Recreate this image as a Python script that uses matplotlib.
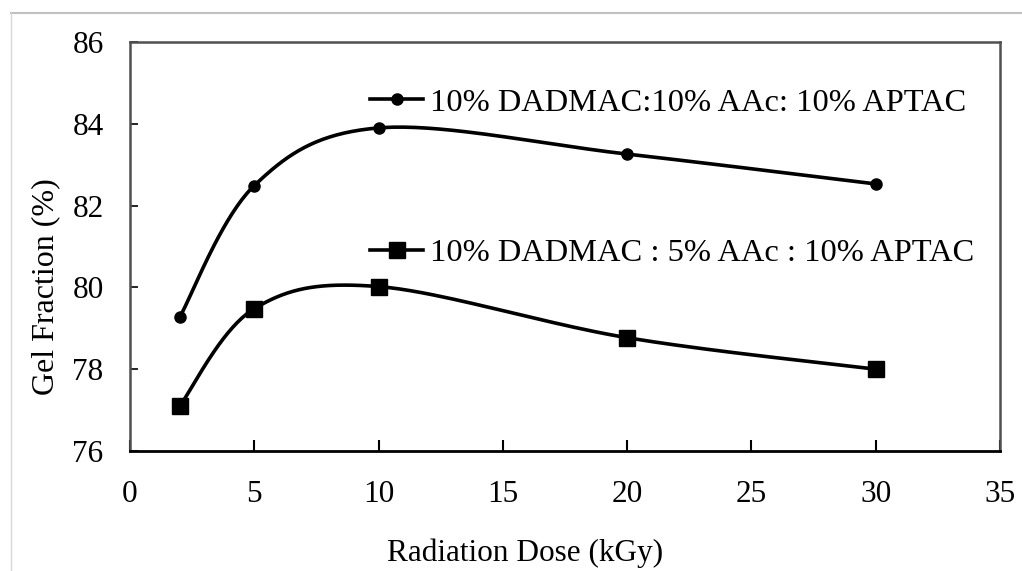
import numpy as np
import matplotlib
matplotlib.use("Agg")
import matplotlib.pyplot as plt
from matplotlib.lines import Line2D

dose = [2, 5, 10, 20, 30]
gel_10aac = [79.27, 82.49, 83.9, 83.26, 82.53]
gel_5aac = [77.1, 79.48, 80.02, 78.77, 78.0]
label_10aac = "10% DADMAC:10% AAc: 10% APTAC"
label_5aac = "10% DADMAC : 5% AAc : 10% APTAC"
xticks = [0, 5, 10, 15, 20, 25, 30, 35]
yticks = [76, 78, 80, 82, 84, 86]


def smooth(x, y, n=40):
    # excel style smoothed line: cubic bezier with catmull-rom control points
    p = np.column_stack([x, y]).astype(float)
    out = []
    for i in range(len(p) - 1):
        p0 = p[i - 1] if i > 0 else p[i]
        p1 = p[i]
        p2 = p[i + 1]
        p3 = p[i + 2] if i + 2 < len(p) else p[i + 1]
        c1 = p1 + (p2 - p0) / 6
        c2 = p2 - (p3 - p1) / 6
        t = np.linspace(0, 1, n)[:, None]
        seg = (1 - t) ** 3 * p1 + 3 * (1 - t) ** 2 * t * c1 + 3 * (1 - t) * t ** 2 * c2 + t ** 3 * p2
        out.append(seg if i == 0 else seg[1:])
    out = np.vstack(out)
    return out[:, 0], out[:, 1]


plt.rcParams['font.family'] = ['Liberation Serif', 'DejaVu Serif']
fig = plt.figure(figsize=(10.22, 5.71), dpi=100)
ax = fig.add_axes([0.1272, 0.2102, 0.8513, 0.7162])

sx, sy = smooth(dose, gel_10aac)
ax.plot(sx, sy, color='black', lw=2.6, solid_capstyle='round')
ax.plot(dose, gel_10aac, 'o', color='black', ms=8)
sx, sy = smooth(dose, gel_5aac)
ax.plot(sx, sy, color='black', lw=2.6, solid_capstyle='round')
ax.plot(dose, gel_5aac, 's', color='black', ms=11)

ax.set_xlim(0, 35)
ax.set_ylim(76, 86)
ax.set_xticks(xticks)
ax.set_yticks(yticks)
ax.tick_params(axis='x', direction='in', length=8, width=1.5, labelsize=22.5, pad=21)
ax.tick_params(axis='y', direction='in', length=6, width=1.2, labelsize=22.5, pad=19)
for s in ['left', 'top', 'right']:
    ax.spines[s].set_color('#505050')
    ax.spines[s].set_linewidth(1.8)
ax.spines['bottom'].set_color('black')
ax.spines['bottom'].set_linewidth(2)

ax.set_xlabel('Radiation Dose (kGy)', fontsize=22.5)
ax.set_ylabel('Gel Fraction (%)', fontsize=23)
ax.xaxis.set_label_coords(0.454, -0.213)
ax.yaxis.set_label_coords(-0.08, 0.401)

h1 = Line2D([], [], color='black', lw=2.6, marker='o', ms=8)
h2 = Line2D([], [], color='black', lw=2.6, marker='s', ms=11)
leg1 = ax.legend([h1], [label_10aac], loc='center left', bbox_to_anchor=(0.276, 0.851),
                 frameon=False, fontsize=23.4, handlelength=1.63, handletextpad=0.22, borderpad=0, borderaxespad=0)
ax.add_artist(leg1)
ax.legend([h2], [label_5aac], loc='center left', bbox_to_anchor=(0.276, 0.484),
          frameon=False, fontsize=23.4, handlelength=1.63, handletextpad=0.22, borderpad=0, borderaxespad=0)

fig.add_artist(Line2D([11 / 1022, 1], [1 - 13 / 571, 1 - 13 / 571], color='#c0c0c0', lw=1.5))
fig.add_artist(Line2D([11 / 1022, 11 / 1022], [0, 1 - 13 / 571], color='#d8d8d8', lw=1))

fig.savefig('out.png', dpi=100)
